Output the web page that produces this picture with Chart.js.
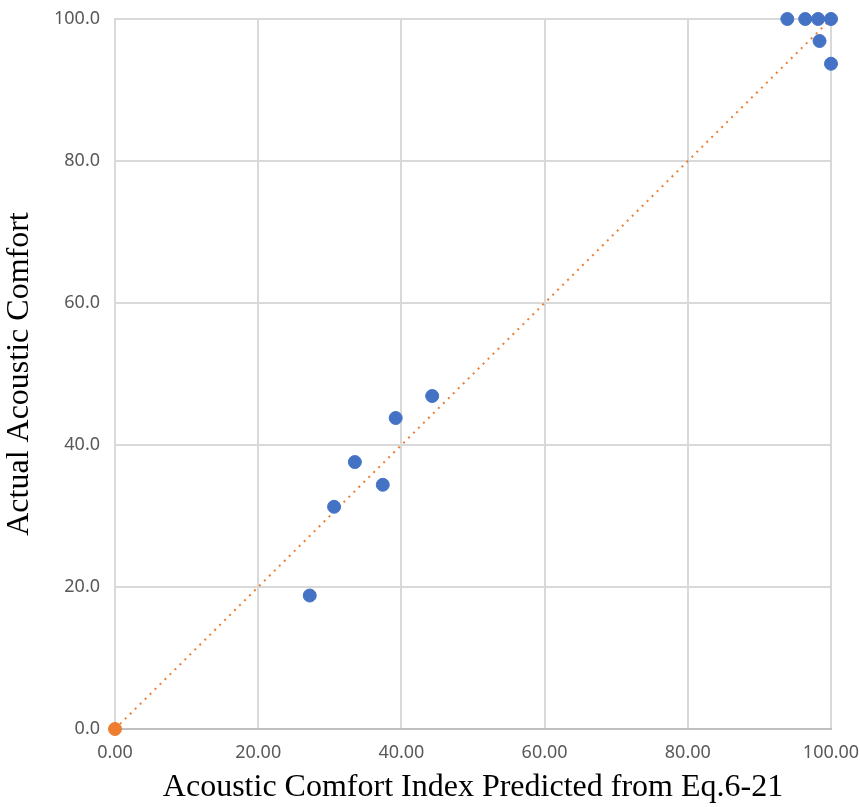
<!DOCTYPE html>
<html>
<head>
<meta charset="utf-8">
<script src="https://cdn.jsdelivr.net/npm/chart.js@4"></script>
<style>
  html, body { margin: 0; padding: 0; background: #fff; }
  #wrap { width: 860px; height: 807px; }
</style>
</head>
<body>
<div id="wrap"><canvas id="chart" width="860" height="807"></canvas></div>
<script>
// predicted index (x) vs actual comfort (y)
const predicted = [27.2, 30.6, 33.5, 37.4, 39.2, 44.3, 93.9, 96.4, 98.2, 100.0, 98.4, 100.0]
const actual = [18.8, 31.3, 37.6, 34.4, 43.8, 46.9, 100.0, 100.0, 100.0, 100.0, 96.9, 93.7]
const originX = [0]
const originY = [0]
const trendX = [0, 100]
const trendY = [0, 100]

const blue = '#4472C4'
const orange = '#ED7D31'
const gridColor = '#d9d9d9'
const tickColor = '#595959'

const toPoints = (xs, ys) => xs.map((x, i) => ({ x: x, y: ys[i] }))

// keep the plot box fixed, labels may overflow into the margins
function noOverflow (scale) {
  scale.paddingLeft = 0
  scale.paddingRight = 0
  scale.paddingTop = 0
  scale.paddingBottom = 0
}

const chart = new Chart('chart', {
  type: 'scatter',
  data: {
    datasets: [{
      label: 'trend',
      type: 'line',
      data: toPoints(trendX, trendY),
      borderColor: orange,
      borderWidth: 2,
      borderDash: [2, 5],
      pointRadius: 0,
      fill: false,
      order: 3
    }, {
      label: 'actual',
      data: toPoints(predicted, actual),
      backgroundColor: blue,
      borderColor: blue,
      pointRadius: 6.5,
      order: 1
    }, {
      label: 'origin',
      data: toPoints(originX, originY),
      backgroundColor: orange,
      borderColor: orange,
      pointRadius: 6.5,
      order: 2
    }]
  },
  options: {
    responsive: false,
    animation: false,
    clip: false,
    layout: { padding: { left: 0, right: 29, top: 19, bottom: 0 } },
    plugins: {
      legend: { display: false },
      tooltip: { enabled: false }
    },
    scales: {
      x: {
        type: 'linear',
        min: 0,
        max: 100,
        afterFit: (scale) => { scale.height = 78; noOverflow(scale) },
        border: { color: '#bfbfbf', width: 2 },
        grid: { color: gridColor, lineWidth: 2, drawTicks: false },
        ticks: {
          stepSize: 20,
          padding: 13,
          color: tickColor,
          font: { family: 'Noto Sans', size: 18 },
          callback: (v) => v.toFixed(2)
        },
        title: {
          display: true,
          text: 'Acoustic Comfort Index Predicted from Eq.6-21',
          color: '#000',
          font: { family: 'Liberation Serif', size: 32 },
          padding: { top: 0, bottom: 0 }
        }
      },
      y: {
        type: 'linear',
        min: 0,
        max: 100,
        afterFit: (scale) => { scale.width = 115; noOverflow(scale) },
        border: { color: gridColor, width: 2 },
        grid: { color: gridColor, lineWidth: 2, drawTicks: false },
        ticks: {
          stepSize: 20,
          padding: 15,
          color: tickColor,
          font: { family: 'Noto Sans', size: 18 },
          callback: (v) => v.toFixed(1)
        },
        title: {
          display: true,
          text: 'Actual Acoustic Comfort',
          color: '#000',
          font: { family: 'Liberation Serif', size: 32 },
          padding: { top: 0, bottom: 12 }
        }
      }
    }
  }
})
</script>
</body>
</html>
